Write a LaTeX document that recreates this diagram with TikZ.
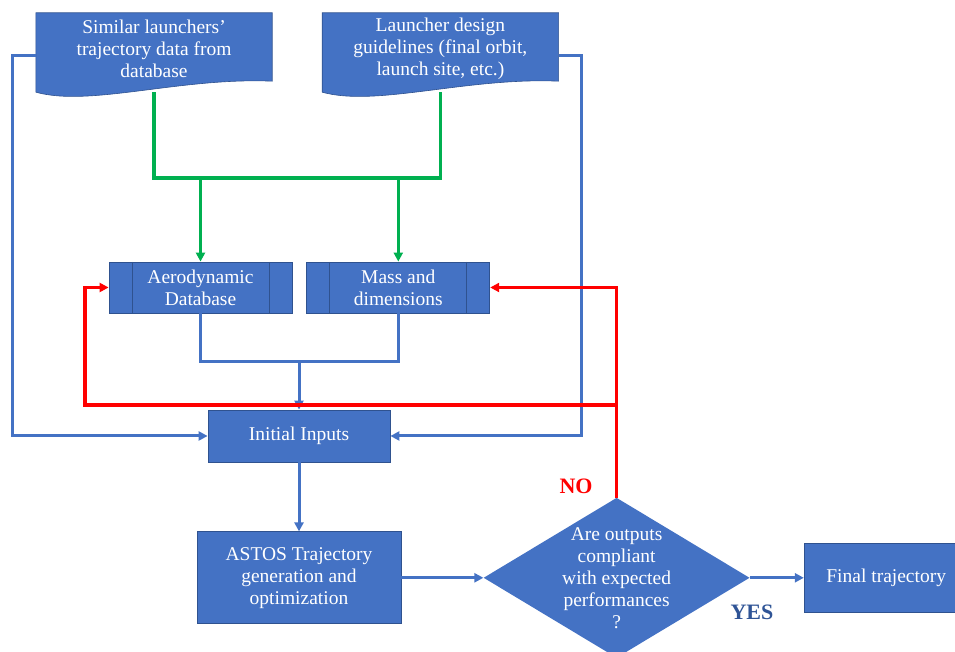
\documentclass[tikz,border=0pt]{standalone}
\usepackage{fontspec}
\setmainfont{Liberation Serif}
\usetikzlibrary{shapes.geometric, arrows.meta, positioning, backgrounds}
\definecolor{boxblue}{RGB}{68,114,196}
\definecolor{boxedge}{RGB}{47,82,143}
\definecolor{flowgreen}{RGB}{0,176,80}
\definecolor{flowred}{RGB}{255,0,0}
\definecolor{yesblue}{RGB}{47,84,150}

% wavy document outline behind a doc node
\newcommand{\docfill}[1]{%
  \filldraw[fill=boxblue, draw=boxedge, line width=0.6pt] (#1.north west) -- (#1.north east)
    -- ([yshift=3]#1.south east) .. controls ([xshift=-92,yshift=7]#1.south east) and ([xshift=54,yshift=-23]#1.south west) .. ([yshift=-8]#1.south west) -- cycle;}

\begin{document}
\begin{tikzpicture}[x=1pt, y=1pt,
    txt/.style={font=\fontsize{19.5}{22}\selectfont, text=white, align=center},
    box/.style={txt, rectangle, fill=boxblue, draw=boxedge, line width=0.8pt, inner sep=0pt},
    doc/.style={txt, rectangle, minimum width=236, minimum height=71, inner sep=0pt},
    subproc/.style={box, minimum width=183, minimum height=51,
      path picture={\draw[boxedge, line width=0.8pt]
        ([xshift=23]path picture bounding box.north west) -- ([xshift=23]path picture bounding box.south west)
        ([xshift=-23]path picture bounding box.north east) -- ([xshift=-23]path picture bounding box.south east);}},
    blueline/.style={boxblue, line width=3pt},
    bluearrow/.style={blueline, -{Triangle[length=9pt,width=9pt]}},
    greenline/.style={flowgreen, line width=3.2pt},
    greenarrow/.style={greenline, -{Triangle[length=9pt,width=9pt]}},
    redarrow/.style={flowred, line width=3.2pt, -{Triangle[length=9pt,width=9pt]}}]
    \useasboundingbox (0,0) rectangle (955,652);

    % Data sources
    \node[doc] (doc1) at (154,603.5) {Similar launchers’\\trajectory data from\\database};
    \node[doc, right=50pt of doc1] (doc2) {Launcher design\\guidelines (final orbit,\\launch site, etc.)};
    \begin{scope}[on background layer]
        \docfill{doc1}
        \docfill{doc2}
    \end{scope}

    % Sub-models
    \node[subproc] (aero) at (200.5,364.5) {Aerodynamic\\Database};
    \node[subproc, right=14pt of aero] (mass) {Mass and\\dimensions};

    % Main chain
    \node[box, minimum width=182, minimum height=52] (init) at (299,216) {Initial Inputs};
    \node[box, minimum width=204, minimum height=92, below=69pt of init] (astos) {ASTOS Trajectory\\generation and\\optimization};
    \node[diamond, fill=boxblue, inner sep=0pt, minimum width=266, minimum height=160, right=82pt of astos] (check) {};
    \node[txt] (checktxt) at (check) {Are outputs\\compliant\\with expected\\performances\\?};
    \node[box, minimum width=164, minimum height=69, right=54pt of check] (final) {Final trajectory};

    % Green feeds
    \coordinate (gbus) at (0,474);
    \draw[greenline] ([yshift=-8]doc1.south) |- (gbus -| doc2.south) -- ([yshift=-8]doc2.south);
    \draw[greenarrow] (gbus -| aero.north) -- (aero.north);
    \draw[greenarrow] (gbus -| mass.north) -- (mass.north);

    % Blue flow
    \coordinate (bbus) at (0,290);
    \draw[blueline] (aero.south) |- (bbus -| init.north) -| (mass.south);
    \draw[bluearrow] (bbus -| init.north) -- (init.north);
    \draw[bluearrow] ([yshift=-7]doc1.west) -- ++(-23,0) |- (init.west);
    \draw[bluearrow] ([yshift=-7]doc2.east) -- ++(23,0) |- (init.east);
    \draw[bluearrow] (init.south) -- (astos.north);
    \draw[bluearrow] (astos.east) -- (check.west);
    \draw[bluearrow] (check.east) -- (final.west);

    % Red loop back
    \path (check.north) ++(0,92) coordinate (redjoin);
    \draw[redarrow] (check.north) |- (85,247) |- (aero.west);
    \draw[redarrow] (redjoin) |- (mass.east);

    \node[flowred, font=\fontsize{22}{24}\selectfont\bfseries] (nolbl) at (576,166) {NO};
    \node[yesblue, font=\fontsize{22}{24}\selectfont\bfseries] (yeslbl) at (752,40) {YES};
\end{tikzpicture}
\end{document}
